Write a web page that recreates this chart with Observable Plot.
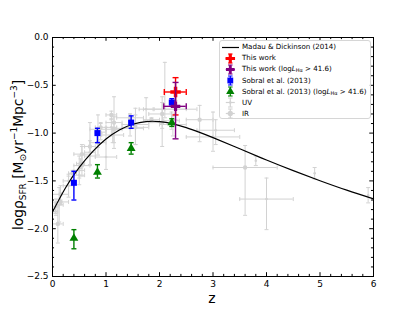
<!DOCTYPE html>
<html><head><meta charset="utf-8">
<script src="https://cdn.jsdelivr.net/npm/d3@7"></script>
<script src="https://cdn.jsdelivr.net/npm/@observablehq/plot@0.6"></script>
<style>
body{margin:0;background:#fff;}
#wrap{position:relative;width:415px;height:311px;font-family:"DejaVu Sans",sans-serif;overflow:hidden;}
#ylab{position:absolute;left:19px;top:155px;transform:translate(-50%,-50%) rotate(-90deg);white-space:nowrap;font-size:13.8px;line-height:1;}
#ylab sub{font-size:9px;vertical-align:-3px;}
#ylab sup{font-size:9px;vertical-align:6px;}
#xlab{position:absolute;left:212px;top:298px;transform:translate(-50%,-50%);font-size:14px;line-height:1;}
#legend{position:absolute;left:219px;top:40px;width:152px;height:79px;border:1px solid #d6d6d6;border-radius:3px;background:rgba(255,255,255,0.8);box-sizing:border-box;font-size:7.1px;}
.row{position:absolute;left:0;height:11px;width:150px;}
.row svg{position:absolute;left:0;top:0;}
.row span{position:absolute;left:22px;top:1.5px;white-space:nowrap;line-height:1;}
.row sub{font-size:5px;vertical-align:-1px;}
</style></head>
<body>
<div id="wrap">
  <div id="chart"></div>
  <div id="ylab">logρ<sub>SFR</sub> [M<sub>⊙</sub>yr<sup>−1</sup>Mpc<sup>−3</sup>]</div>
  <div id="xlab">z</div>
  <div id="legend"></div>
</div>
<script>
// ---- Madau & Dickinson (2014) curve ----
const mdZ = [0,0.25,0.5,0.75,1.0,1.25,1.5,1.75,2.0,2.25,2.5,2.75,3.0,3.5,4.0,4.5,5.0,5.5,6.0];
const mdLogSFR = [-1.825,-1.566,-1.359,-1.193,-1.062,-0.967,-0.907,-0.879,-0.880,-0.903,-0.942,-0.992,-1.047,-1.164,-1.282,-1.393,-1.498,-1.597,-1.688];

// ---- This work ----
const twZ = [2.30], twLog = [-0.57], twLo = [-0.81], twHi = [-0.42], twZlo = [2.09], twZhi = [2.50];
// ---- This work (log L_Ha > 41.6) ----
const twHaZ = [2.30], twHaLog = [-0.72], twHaLo = [-1.06], twHaHi = [-0.47], twHaZlo = [2.08], twHaZhi = [2.50];

// ---- Sobral et al. (2013) ----
const sobZ = [0.40, 0.84, 1.47, 2.23];
const sobLog = [-1.52, -1.00, -0.89, -0.68];
const sobLo = [-1.70, -1.10, -0.95, -0.72];
const sobHi = [-1.40, -0.95, -0.82, -0.64];
// ---- Sobral et al. (2013) (log L_Ha > 41.6) ----
const sobHaLog = [-2.10, -1.41, -1.16, -0.89];
const sobHaLo = [-2.21, -1.47, -1.22, -0.93];
const sobHaHi = [-2.01, -1.33, -1.10, -0.85];

// ---- UV compilation ----
const uvZ   = [0.055,0.3,0.5,0.7,1.0,0.065,0.125,0.3,0.5,0.7,0.9,1.1,1.45,2.1,3.0,4.0,1.125,1.75,2.225,2.3,3.05,3.8,4.9,5.9];
const uvLog = [-1.82,-1.50,-1.39,-1.20,-1.25,-1.77,-1.75,-1.55,-1.44,-1.24,-0.99,-0.94,-0.95,-0.75,-1.04,-1.69,-1.02,-0.75,-0.87,-0.75,-0.97,-1.29,-1.42,-1.65];
const uvZlo = [0.01,0.2,0.4,0.6,0.8,0.01,0.05,0.2,0.4,0.6,0.8,1.0,1.2,1.7,2.5,3.5,0.92,1.62,2.08,1.9,2.7,3.8,4.9,5.9];
const uvZhi = [0.1,0.4,0.6,0.8,1.2,0.12,0.2,0.4,0.6,0.8,1.0,1.2,1.7,2.5,3.5,4.5,1.33,1.88,2.37,2.7,3.4,3.8,4.9,5.9];
const uvHi  = [-1.73,-1.45,-1.24,-0.89,-0.94,-1.69,-1.57,-1.43,-1.34,-1.14,-0.90,-0.85,-0.80,-0.26,-0.78,-1.47,-0.94,-0.63,-0.78,-0.66,-0.86,-1.24,-1.36,-1.57];
const uvLo  = [-1.84,-1.55,-1.47,-1.33,-1.38,-1.86,-1.93,-1.67,-1.54,-1.34,-1.07,-1.03,-1.03,-0.84,-1.19,-2.01,-1.10,-0.87,-0.96,-0.86,-1.12,-1.34,-1.48,-1.73];

// ---- IR compilation ----
const irZ   = [0.15,0.1,0.55,0.85,1.15,1.55,2.05,0.55,0.85,1.15,1.55,2.05,0.15,0.375,0.525,0.7,0.9,1.1,1.45,1.85,2.25,2.75,3.6];
const irLog = [-1.72,-1.95,-1.34,-0.96,-0.89,-0.91,-0.89,-1.22,-1.10,-0.96,-0.94,-0.80,-1.64,-1.42,-1.32,-1.14,-0.94,-0.81,-0.84,-0.86,-0.91,-0.86,-1.36];
const irZlo = [0.0,0.0,0.4,0.7,1.0,1.3,1.8,0.4,0.7,1.0,1.3,1.8,0.0,0.3,0.45,0.6,0.8,1.0,1.2,1.7,2.0,2.5,3.0];
const irZhi = [0.3,0.2,0.7,1.0,1.3,1.8,2.3,0.7,1.0,1.3,1.8,2.3,0.3,0.45,0.6,0.8,1.0,1.2,1.7,2.0,2.5,3.0,4.2];
const irHi  = [-1.70,-1.75,-1.12,-0.81,-0.62,-0.74,-0.68,-1.14,-1.00,-0.83,-0.81,-0.62,-1.55,-1.39,-1.27,-1.08,-0.89,-0.77,-0.80,-0.84,-0.82,-0.71,-1.13];
const irLo  = [-1.75,-2.15,-1.45,-1.15,-1.10,-1.12,-1.14,-1.33,-1.23,-1.16,-1.12,-0.95,-1.75,-1.46,-1.37,-1.20,-1.00,-0.86,-0.88,-0.89,-1.03,-1.09,-1.86];

// ---- ticks ----
const xTicks = [0,1,2,3,4,5,6];
const yTicks = [-2.5,-2.0,-1.5,-1.0,-0.5,0.0];
const xMinor = d3.range(0, 6.001, 0.2).filter(v => Math.abs(v - Math.round(v)) > 1e-6);
const yMinor = d3.range(-2.5, 0.001, 0.1).filter(v => Math.abs(v*2 - Math.round(v*2)) > 1e-6);

const GRAY = "#d2d2d2";
const rows = (z, v, lo, hi, zlo, zhi) => z.map((d, i) => ({z: d, v: v[i], lo: lo[i], hi: hi[i], zlo: zlo ? zlo[i] : d, zhi: zhi ? zhi[i] : d}));
const uv = rows(uvZ, uvLog, uvLo, uvHi, uvZlo, uvZhi);
const ir = rows(irZ, irLog, irLo, irHi, irZlo, irZhi);
const tw = rows(twZ, twLog, twLo, twHi, twZlo, twZhi);
const twHa = rows(twHaZ, twHaLog, twHaLo, twHaHi, twHaZlo, twHaZhi);
const sob = rows(sobZ, sobLog, sobLo, sobHi);
const sobHa = rows(sobZ, sobHaLog, sobHaLo, sobHaHi);
const md = mdZ.map((z, i) => ({z, v: mdLogSFR[i]}));

const capH = {draw(ctx, size){ const w = Math.sqrt(size/Math.PI); ctx.moveTo(-w,0); ctx.lineTo(w,0); }};
const capV = {draw(ctx, size){ const w = Math.sqrt(size/Math.PI); ctx.moveTo(0,-w); ctx.lineTo(0,w); }};

function errMarks(data, color, sw, cap, xerr) {
  const m = [
    Plot.ruleX(data, {x: "z", y1: "lo", y2: "hi", stroke: color, strokeWidth: sw}),
    Plot.dot(data, {x: "z", y: "lo", symbol: capH, r: cap, stroke: color, strokeWidth: sw}),
    Plot.dot(data, {x: "z", y: "hi", symbol: capH, r: cap, stroke: color, strokeWidth: sw})
  ];
  if (xerr) {
    const dx = data.filter(d => d.zhi > d.zlo);
    m.push(
      Plot.ruleY(dx, {y: "v", x1: "zlo", x2: "zhi", stroke: color, strokeWidth: sw}),
      Plot.dot(dx, {x: "zlo", y: "v", symbol: capV, r: cap, stroke: color, strokeWidth: sw}),
      Plot.dot(dx, {x: "zhi", y: "v", symbol: capV, r: cap, stroke: color, strokeWidth: sw})
    );
  }
  return m;
}

const chart = Plot.plot({
  width: 415, height: 311,
  marginLeft: 52, marginRight: 42, marginTop: 37, marginBottom: 35,
  x: {domain: [0, 6]},
  y: {domain: [-2.5, 0]},
  style: {fontFamily: "DejaVu Sans", fontSize: "9px", background: "white", color: "black"},
  marks: [
    ...errMarks(uv, GRAY, 1, 2, true),
    Plot.dot(uv, {x: "z", y: "v", r: 1.3, fill: GRAY}),
    ...errMarks(ir, GRAY, 1, 2, true),
    Plot.dot(ir, {x: "z", y: "v", r: 2.2, fill: GRAY}),
    Plot.line(md, {x: "z", y: "v", stroke: "black", strokeWidth: 1.2, curve: "natural"}),
    ...errMarks(sobHa, "green", 1.4, 2.5, false),
    Plot.dot(sobHa, {x: "z", y: "v", symbol: "triangle", r: 3.3, fill: "green"}),
    ...errMarks(sob, "blue", 1.4, 2.5, false),
    Plot.dot(sob, {x: "z", y: "v", symbol: "square", r: 3.4, fill: "blue"}),
    ...errMarks(tw, "red", 1.4, 3, true),
    Plot.dot(tw, {x: "z", y: "v", symbol: "cross", r: 4.4, fill: "red"}),
    ...errMarks(twHa, "purple", 1.4, 3, true),
    Plot.dot(twHa, {x: "z", y: "v", symbol: "cross", r: 4.0, fill: "purple"}),
    // inward ticks
    Plot.ruleX(xTicks, {x: d => d, y1: -2.5, y2: -2.5 + 0.04, stroke: "black"}),
    Plot.ruleX(xTicks, {x: d => d, y1: 0, y2: -0.04, stroke: "black"}),
    Plot.ruleX(xMinor, {x: d => d, y1: -2.5, y2: -2.5 + 0.022, stroke: "black"}),
    Plot.ruleX(xMinor, {x: d => d, y1: 0, y2: -0.022, stroke: "black"}),
    Plot.ruleY(yTicks, {y: d => d, x1: 0, x2: 0.07, stroke: "black"}),
    Plot.ruleY(yTicks, {y: d => d, x1: 6, x2: 5.93, stroke: "black"}),
    Plot.ruleY(yMinor, {y: d => d, x1: 0, x2: 0.038, stroke: "black"}),
    Plot.ruleY(yMinor, {y: d => d, x1: 6, x2: 5.962, stroke: "black"}),
    Plot.frame({stroke: "black", strokeWidth: 1}),
    Plot.axisX(xTicks, {tickSize: 0, tickPadding: 4, tickFormat: d => String(d), label: null}),
    Plot.axisY(yTicks, {tickSize: 0, tickPadding: 4, tickFormat: d3.format(".1f"), label: null})
  ]
});
document.getElementById("chart").appendChild(chart);

// ---- legend ----
const legendItems = [
  {label: "Madau &amp; Dickinson (2014)", kind: "line"},
  {label: "This work", color: "red", sym: d3.symbolCross, size: 50, xe: true},
  {label: "This work (log<i>L</i><sub>Hα</sub> &gt; 41.6)", color: "purple", sym: d3.symbolCross, size: 42, xe: true},
  {label: "Sobral et al. (2013)", color: "blue", sym: d3.symbolSquare, size: 34, xe: false},
  {label: "Sobral et al. (2013) (log<i>L</i><sub>Hα</sub> &gt; 41.6)", color: "green", sym: d3.symbolTriangle, size: 30, xe: false},
  {label: "UV", color: GRAY, sym: d3.symbolCircle, size: 5, xe: true},
  {label: "IR", color: GRAY, sym: d3.symbolCircle, size: 22, xe: true}
];
const legendTops = [0.5, 11.5, 22.5, 34, 45, 56, 67];
const legend = document.getElementById("legend");
legendItems.forEach((it, i) => {
  let g;
  if (it.kind === "line") {
    g = `<line x1="2" x2="19" y1="5.5" y2="5.5" stroke="black" stroke-width="1.2"/>`;
  } else {
    const p = d3.symbol().type(it.sym).size(it.size)();
    g = `<line x1="10.3" x2="10.3" y1="1" y2="10" stroke="${it.color}" stroke-width="1.2"/>` +
        `<line x1="8" x2="12.6" y1="1" y2="1" stroke="${it.color}" stroke-width="1"/>` +
        `<line x1="8" x2="12.6" y1="10" y2="10" stroke="${it.color}" stroke-width="1"/>` +
        (it.xe ? `<line x1="5.8" x2="14.8" y1="5.5" y2="5.5" stroke="${it.color}" stroke-width="1.2"/>` : "") +
        `<path transform="translate(10.3,5.5)" d="${p}" fill="${it.color}"/>`;
  }
  const row = document.createElement("div");
  row.className = "row";
  row.style.top = legendTops[i] + "px";
  row.innerHTML = `<svg width="21" height="11">${g}</svg><span>${it.label}</span>`;
  legend.appendChild(row);
});
</script>
</body></html>
